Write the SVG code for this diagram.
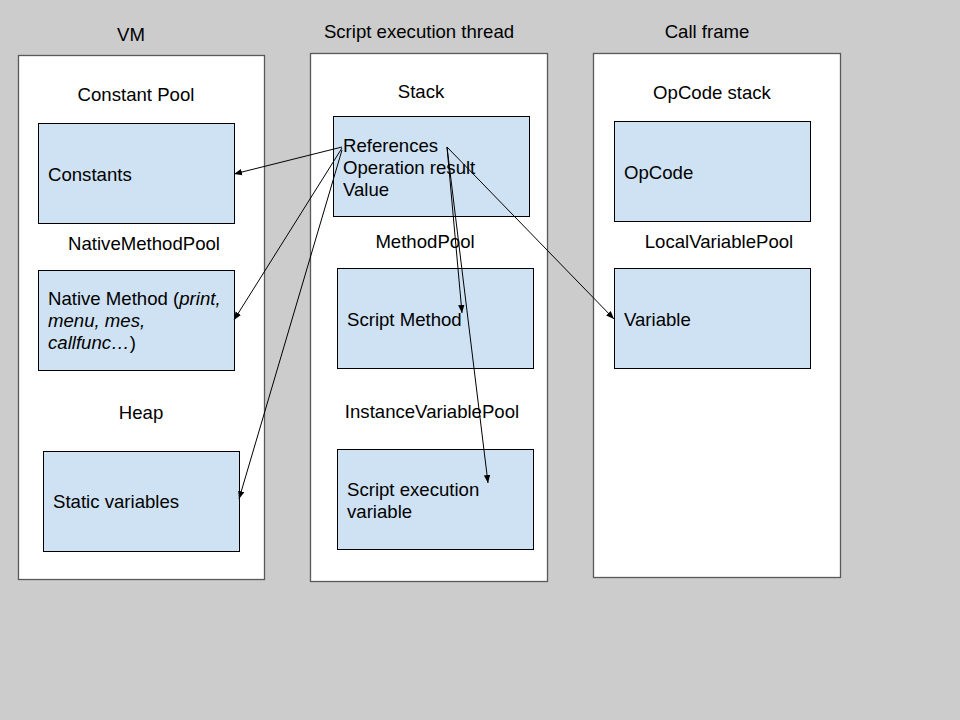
<svg xmlns="http://www.w3.org/2000/svg" width="960" height="720" viewBox="0 0 960 720">
<style>
text{font-family:"Liberation Sans",Arial,sans-serif;font-size:18.6px;fill:#000}
.panel{fill:#fff;stroke:#595959;stroke-width:1.3}
.box{fill:#cfe2f3;stroke:#000;stroke-width:1}
.c{text-anchor:middle}
.conn line{stroke:#000;stroke-width:1;marker-end:url(#ah)}
</style>
<defs>
<marker id="ah" viewBox="0 0 10 10" refX="10" refY="5" markerWidth="8" markerHeight="8" orient="auto" markerUnits="userSpaceOnUse">
<path d="M0,1 L10,5 L0,9 z" fill="#000"/>
</marker>
</defs>
<rect width="960" height="720" fill="#cccccc"/>
<g id="vm">
<rect class="panel" x="18.5" y="55.5" width="246" height="524"/>
<text class="c" x="131" y="41">VM</text>
<text class="c" x="136" y="101">Constant Pool</text>
<text class="c" x="144" y="250">NativeMethodPool</text>
<text class="c" x="141" y="419">Heap</text>
</g>
<g id="thread">
<rect class="panel" x="310.5" y="53.5" width="237" height="528"/>
<text class="c" x="419" y="38">Script execution thread</text>
<text class="c" x="421" y="98">Stack</text>
<text class="c" x="425" y="248">MethodPool</text>
<text class="c" x="432" y="418">InstanceVariablePool</text>
</g>
<g id="callframe">
<rect class="panel" x="593.5" y="53.5" width="247" height="524"/>
<text class="c" x="707" y="38">Call frame</text>
<text class="c" x="712" y="99">OpCode stack</text>
<text class="c" x="719" y="248">LocalVariablePool</text>
</g>
<g id="constants">
<rect class="box" x="38.5" y="123.5" width="196" height="100"/>
<text x="48" y="181">Constants</text>
</g>
<g id="native">
<rect class="box" x="38.5" y="270.5" width="196" height="100"/>
<text x="48" y="305">Native Method (<tspan font-style="italic">print,</tspan></text>
<text x="48" y="327" font-style="italic">menu, mes,</text>
<text x="48" y="349"><tspan font-style="italic">callfunc…</tspan>)</text>
</g>
<g id="static">
<rect class="box" x="43.5" y="451.5" width="196" height="100"/>
<text x="53" y="508">Static variables</text>
</g>
<g id="stack">
<rect class="box" x="333.5" y="116.5" width="196" height="100"/>
<text x="343" y="152">References</text>
<text x="343" y="174">Operation result</text>
<text x="343" y="196">Value</text>
</g>
<g id="scriptmethod">
<rect class="box" x="337.5" y="268.5" width="196" height="100"/>
<text x="347" y="326">Script Method</text>
</g>
<g id="scriptvar">
<rect class="box" x="337.5" y="449.5" width="196" height="100"/>
<text x="347" y="496">Script execution</text>
<text x="347" y="518">variable</text>
</g>
<g id="opcode">
<rect class="box" x="614.5" y="121.5" width="196" height="100"/>
<text x="624" y="179">OpCode</text>
</g>
<g id="variable">
<rect class="box" x="614.5" y="268.5" width="196" height="100"/>
<text x="624" y="326">Variable</text>
</g>
<g id="connectors" class="conn">
<line x1="342" y1="147" x2="234" y2="174"/>
<line x1="342" y1="148" x2="234" y2="320"/>
<line x1="342" y1="150" x2="239" y2="499"/>
<line x1="447" y1="147" x2="462" y2="313"/>
<line x1="447" y1="147" x2="488" y2="483"/>
<line x1="447" y1="147" x2="614" y2="319"/>
</g>
</svg>
